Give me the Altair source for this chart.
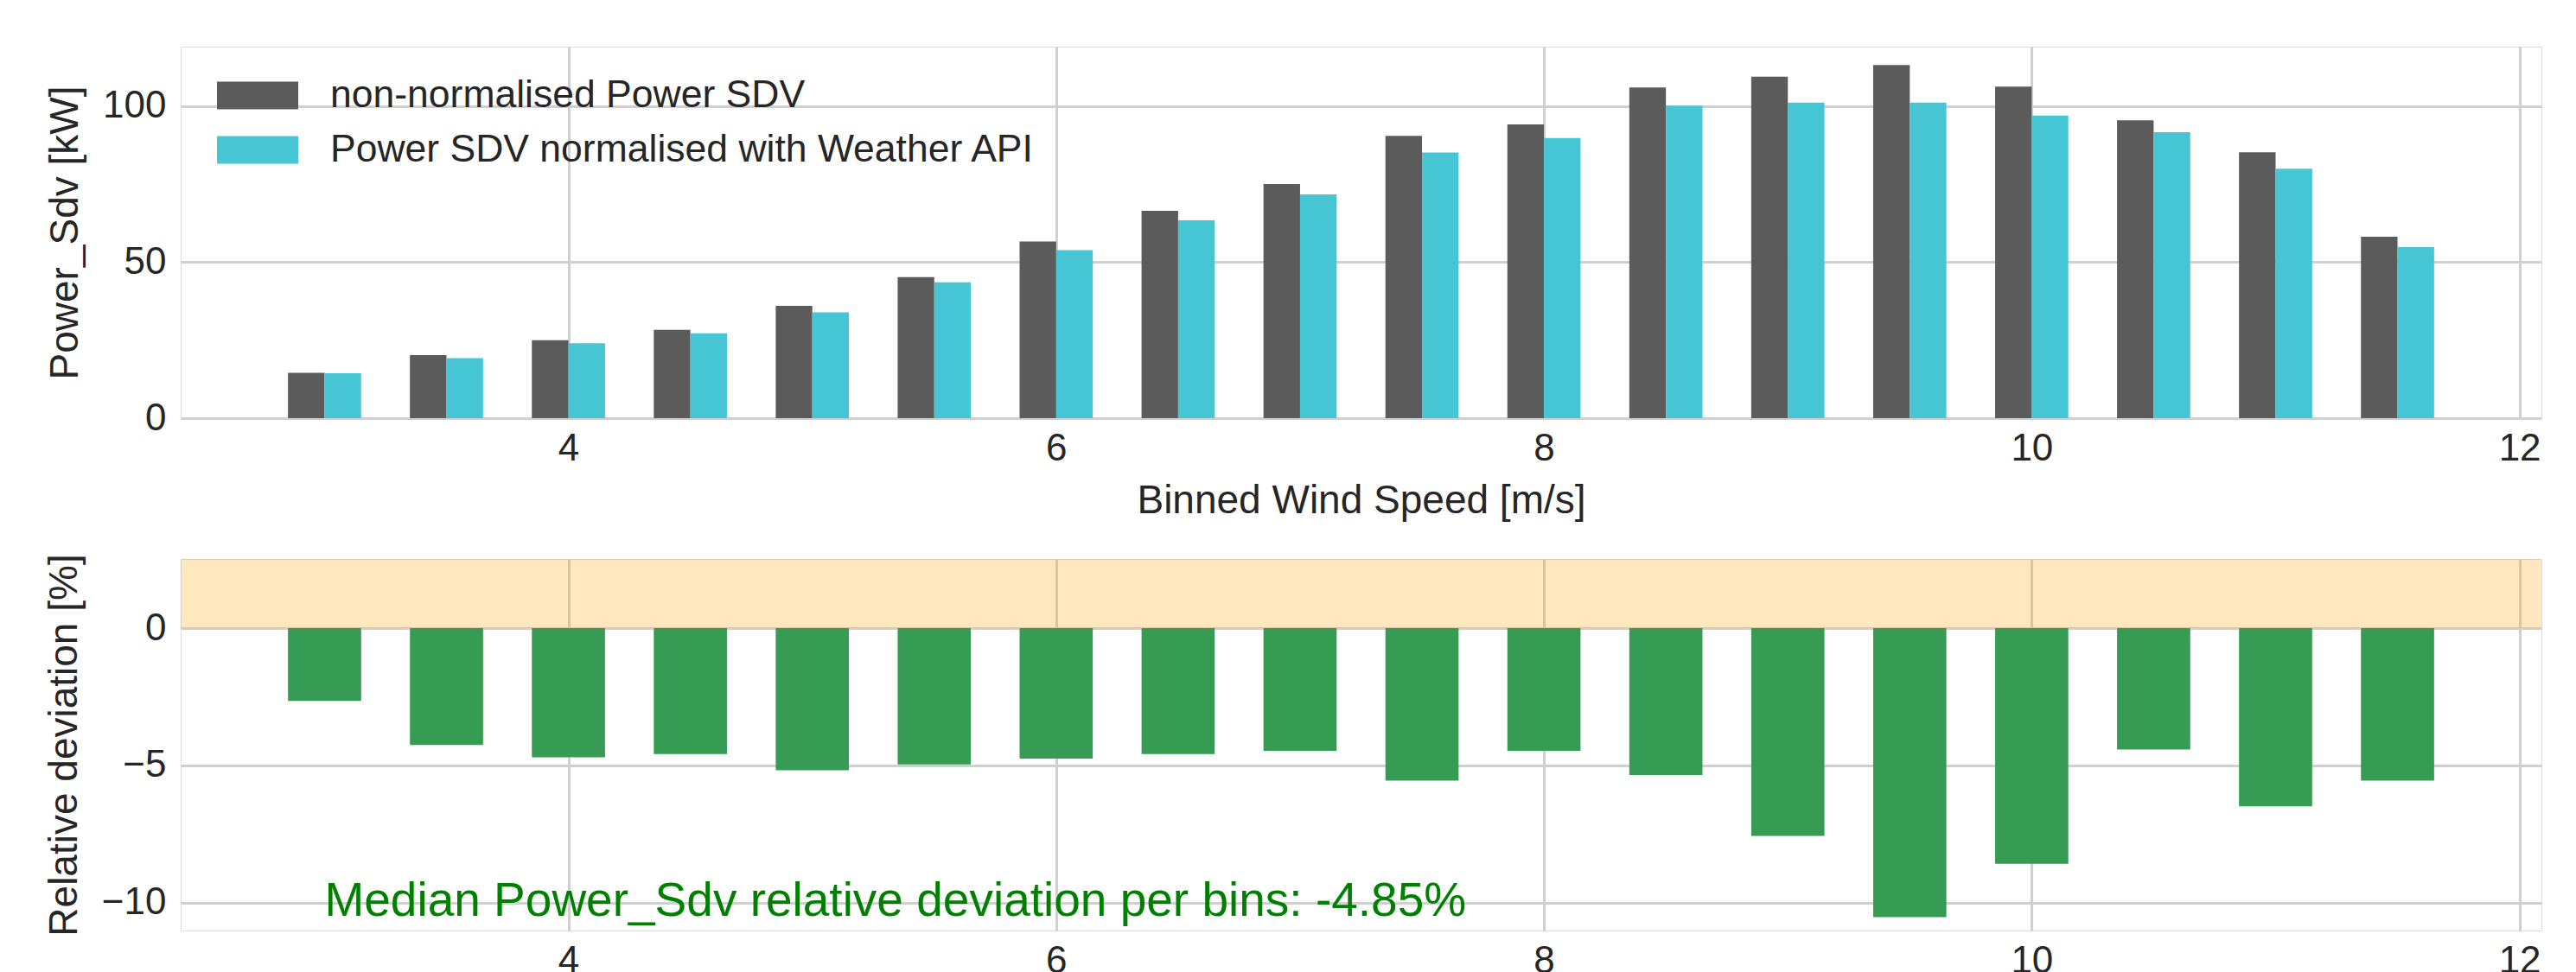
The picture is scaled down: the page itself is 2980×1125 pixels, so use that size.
import altair as alt
import pandas as pd

# ---- data ----
wind_bins = [3.0, 3.5, 4.0, 4.5, 5.0, 5.5, 6.0, 6.5, 7.0, 7.5, 8.0, 8.5, 9.0, 9.5, 10.0, 10.5, 11.0, 11.5]
power_non_norm = [14.5, 20.2, 25.0, 28.3, 36.0, 45.2, 56.6, 66.4, 75.0, 90.4, 94.1, 105.9, 109.4, 113.1, 106.2, 95.4, 85.2, 58.1]
power_norm = [14.4, 19.2, 24.0, 27.2, 33.9, 43.5, 53.8, 63.4, 71.7, 85.1, 89.7, 100.1, 101.1, 101.1, 96.9, 91.6, 79.9, 54.8]
rel_dev = [-2.65, -4.26, -4.71, -4.59, -5.18, -4.97, -4.75, -4.59, -4.47, -5.56, -4.47, -5.35, -7.57, -10.53, -8.59, -4.42, -6.49, -5.56]
series_names = ["non-normalised Power SDV", "Power SDV normalised with Weather API"]
series_colors = ["#5b5b5b", "#46c6d4"]
x_ticks = [4, 6, 8, 10, 12]
top_y_ticks = [0, 50, 100]
bot_y_ticks = [-10, -5, 0]
median_text = "Median Power_Sdv relative deviation per bins: -4.85%"
median_pos = (3.0, -10.5)

FONT = "Liberation Sans"
TXT = "#262626"
GRID = "#d0d0d0"
PW, PH = 2731, 430
XDOM = [2.41, 12.09]

top_df = pd.DataFrame(
    [{"wind": w, "series": series_names[0], "off": -0.15, "value": v} for w, v in zip(wind_bins, power_non_norm)]
    + [{"wind": w, "series": series_names[1], "off": 0.0, "value": v} for w, v in zip(wind_bins, power_norm)]
)
bot_df = pd.DataFrame({"wind": wind_bins, "dev": rel_dev})
band_df = pd.DataFrame({"lo": [0.0], "hi": [2.52]})
txt_df = pd.DataFrame({"x0": [median_pos[0]], "dev": [median_pos[1]], "t": [median_text]})

axis_common = dict(
    labelFont=FONT, labelFontSize=44, labelColor=TXT,
    titleFont=FONT, titleFontSize=46, titleColor=TXT, titleFontWeight="normal",
    gridColor=GRID, gridWidth=3, tickSize=0, domain=False,
)

x_scale = alt.Scale(domain=XDOM, nice=False, zero=False)
x_top = alt.X("x0:Q", scale=x_scale,
              axis=alt.Axis(values=x_ticks, title="Binned Wind Speed [m/s]", labelPadding=13, titlePadding=16,
                            format="d", **axis_common))
top = alt.Chart(top_df).transform_calculate(
    x0="datum.wind + datum.off", x1="datum.wind + datum.off + 0.15"
).mark_bar(opacity=1).encode(
    x=x_top,
    x2="x1:Q",
    y=alt.Y("value:Q", scale=alt.Scale(domain=[0, 119], nice=False),
            axis=alt.Axis(values=top_y_ticks, title="Power_Sdv [kW]", labelPadding=17, titlePadding=19, **axis_common)),
    y2=alt.datum(0),
    color=alt.Color("series:N", scale=alt.Scale(domain=series_names, range=series_colors),
                    legend=alt.Legend(orient="none", legendX=57.5, legendY=25, title=None,
                                      symbolType="M-1.492,-0.508L1.492,-0.508L1.492,0.508L-1.492,0.508Z",
                                      symbolSize=3969,
                                      labelFont=FONT, labelFontSize=44.5, labelColor=TXT, labelLimit=0,
                                      rowPadding=10, labelOffset=52.5, padding=0,
                                      symbolStrokeWidth=0, symbolOpacity=1)),
).properties(width=PW, height=PH)

xb_axis = alt.Axis(values=x_ticks, title=None, labelPadding=13, format="d", **axis_common)
yb_scale = alt.Scale(domain=[-11.02, 2.52], nice=False)
yb_axis = alt.Axis(values=bot_y_ticks, title="Relative deviation [%]", labelPadding=17, titlePadding=19, **axis_common)

bars_b = alt.Chart(bot_df).transform_calculate(
    x0="datum.wind - 0.15", x1="datum.wind + 0.15"
).mark_bar(color="#369b53").encode(
    x=alt.X("x0:Q", scale=x_scale, axis=xb_axis), x2="x1:Q",
    y=alt.Y("dev:Q", scale=yb_scale, axis=yb_axis),
    y2=alt.datum(0),
)
band = alt.Chart(band_df).mark_rect(color="#ffa500", opacity=0.25).encode(
    y=alt.Y("lo:Q", scale=yb_scale, axis=yb_axis), y2="hi:Q"
)
txt = alt.Chart(txt_df).mark_text(align="left", baseline="alphabetic", font=FONT, fontSize=55,
                                  color="#008000").encode(
    x=alt.X("x0:Q", scale=x_scale, axis=xb_axis),
    y=alt.Y("dev:Q", scale=yb_scale, axis=yb_axis), text="t:N"
)
bottom = alt.layer(band, bars_b, txt).properties(width=PW, height=PH)

chart = alt.vconcat(top, bottom, spacing=37).properties(
    padding={"left": 42, "top": 45, "right": 5, "bottom": 5}
).configure_view(stroke="#cccccc", strokeWidth=3.5).configure(background="white")

chart.save("out.html", embed_options={"renderer": "svg", "actions": False})
